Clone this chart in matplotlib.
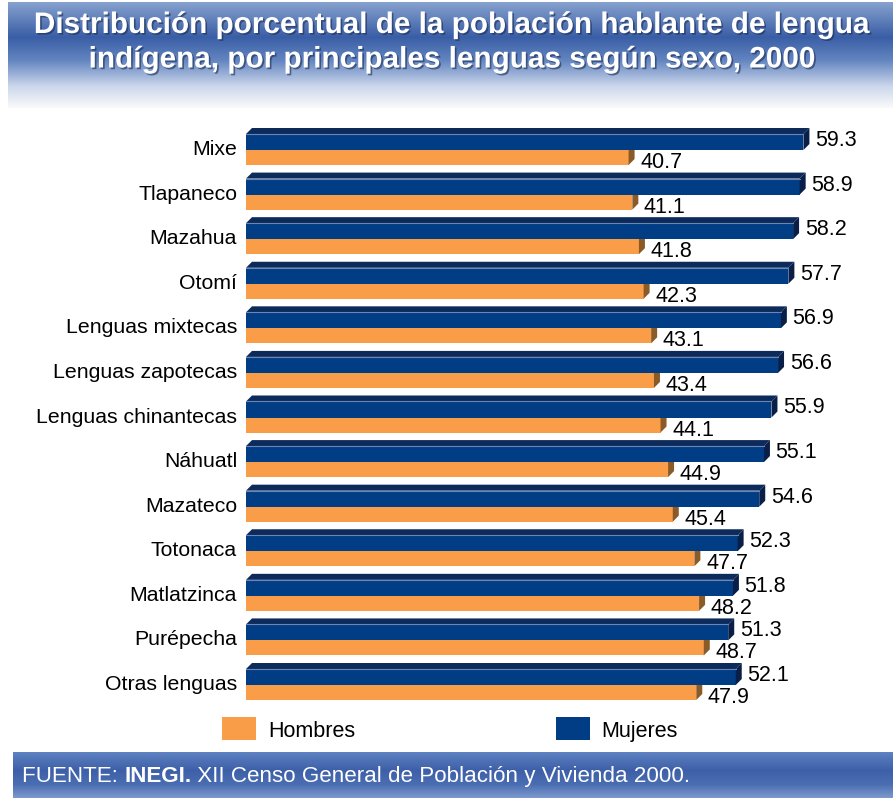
import numpy as np
import matplotlib
matplotlib.use("Agg")
import matplotlib.pyplot as plt
from matplotlib.patches import Polygon, Rectangle
from matplotlib.colors import LinearSegmentedColormap
import matplotlib.patheffects as pe

plt.rcParams['font.family'] = ['Liberation Sans', 'DejaVu Sans']

# ---- data ----
categories = ["Mixe", "Tlapaneco", "Mazahua", "Otomí", "Lenguas mixtecas",
              "Lenguas zapotecas", "Lenguas chinantecas", "Náhuatl", "Mazateco",
              "Totonaca", "Matlatzinca", "Purépecha", "Otras lenguas"]
mujeres = [59.3, 58.9, 58.2, 57.7, 56.9, 56.6, 55.9, 55.1, 54.6, 52.3, 51.8, 51.3, 52.1]
hombres = [40.7, 41.1, 41.8, 42.3, 43.1, 43.4, 44.1, 44.9, 45.4, 47.7, 48.2, 48.7, 47.9]
series_labels = ["Hombres", "Mujeres"]
title = ("Distribución porcentual de la población hablante de lengua\n"
         "indígena, por principales lenguas según sexo, 2000")

# ---- style ----
W, H = 893, 798
C_MUJ = "#013d85"
C_MUJ_TOP = "#0d2b5a"
C_MUJ_SIDE = "#0a1f47"
C_HOM = "#fa9d48"
C_HOM_SIDE = "#8a5a27"

fig = plt.figure(figsize=(W / 100, H / 100), dpi=100)
fig.patch.set_facecolor("white")

def fx(px):
    return px / W

def fy(py):
    return 1 - py / H

# ---- header gradient ----
hdr = fig.add_axes([fx(8), fy(108), fx(W - 8), 106 / H])
hdr.set_axis_off()
hcmap = LinearSegmentedColormap.from_list("hdr", [
    (0.0, "#87a2cf"), (0.33, "#3a5ea6"), (0.55, "#6385c0"),
    (0.8, "#cdd8ec"), (1.0, "#fafafa")])
hdr.imshow(np.linspace(0, 1, 256).reshape(-1, 1), aspect="auto", cmap=hcmap,
           extent=[0, 1, 1, 0])
hdr.set_xlim(0, 1); hdr.set_ylim(1, 0)
shadow = [pe.withSimplePatchShadow(offset=(1.2, -1.2), shadow_rgbFace="#1b2d55", alpha=0.6)]
lines = title.split("\n")
fig.text(fx(453), fy(33), lines[0], ha="center", va="baseline",
         color="white", fontsize=21.4, fontweight="bold", path_effects=shadow)
fig.text(fx(453), fy(67.5), lines[1], ha="center", va="baseline",
         color="white", fontsize=21.4, fontweight="bold", path_effects=shadow)

# ---- footer gradient ----
ftr = fig.add_axes([fx(13), 0, fx(W - 13), 46 / H])
ftr.set_axis_off()
fcmap = LinearSegmentedColormap.from_list("ftr", [
    (0.0, "#5f82c2"), (0.4, "#3c5fa8"), (0.7, "#4a6db2"), (1.0, "#7d99cd")])
ftr.imshow(np.linspace(0, 1, 256).reshape(-1, 1), aspect="auto", cmap=fcmap,
           extent=[0, 1, 1, 0])
ftr.set_xlim(0, 1); ftr.set_ylim(1, 0)
t1 = fig.text(fx(22), fy(782), "FUENTE: ", ha="left", va="baseline", color="white", fontsize=16.1)
t2 = ftr.annotate("INEGI.", xy=(1, 0), xycoords=t1, ha="left", va="bottom",
                  color="white", fontsize=16.1, fontweight="bold")
t3 = ftr.annotate(" XII Censo General de Población y Vivienda 2000.", xy=(1, 0),
                  xycoords=t2, ha="left", va="bottom", color="white", fontsize=16.1)

# ---- main bars axes ----
row_px = 44.58
x_px = 9.4
top_b, bot_b = 150, 685
ax_top = top_b - 0.6 * row_px
ax_bot = bot_b + 0.6 * row_px
ax_left = 246
xmax = 68
ax = fig.add_axes([fx(ax_left), fy(ax_bot), xmax * x_px / W, (ax_bot - ax_top) / H])
ax.set_xlim(0, xmax)
ax.set_ylim(len(categories) - 1 + 0.6, -0.6)
ax.set_axis_off()

hm = 16 / row_px   # mujeres height
hh = 15 / row_px   # hombres height
dx = 6 / x_px
dy = 6 / row_px
y = np.arange(len(categories))

ax.barh(y, hombres, height=hh, align="edge", color=C_HOM, zorder=2)
for yi, v in zip(y, hombres):
    ax.add_patch(Polygon([(v, yi), (v + dx, yi - dy), (v + dx, yi + hh - dy), (v, yi + hh)],
                         closed=True, facecolor=C_HOM_SIDE, edgecolor="none", zorder=2))
ax.barh(y - hm, mujeres, height=hm, align="edge", color=C_MUJ, zorder=3)
for yi, v in zip(y, mujeres):
    t = yi - hm
    ax.add_patch(Polygon([(0, t), (dx, t - dy), (v + dx, t - dy), (v, t)],
                         closed=True, facecolor=C_MUJ_TOP, edgecolor="none", zorder=3))
    ax.plot([0, v], [t, t], color="#6a86b8", lw=0.8, zorder=4)
    ax.add_patch(Polygon([(v, t), (v + dx, t - dy), (v + dx, yi - dy), (v, yi)],
                         closed=True, facecolor=C_MUJ_SIDE, edgecolor="none", zorder=3))

for yi, v in zip(y, mujeres):
    ax.text(v + dx + 0.6, yi - 4 / row_px, f"{v:.1f}", ha="left", va="baseline",
            fontsize=15.5, color="black", zorder=5)
for yi, v in zip(y, hombres):
    ax.text(v + dx + 0.6, yi + 18 / row_px, f"{v:.1f}", ha="left", va="baseline",
            fontsize=15.5, color="black", zorder=5)
for yi, c in zip(y, categories):
    ax.text(-9 / x_px, yi + 5 / row_px, c, ha="right", va="baseline",
            fontsize=15.3, color="black", clip_on=False)

# ---- legend ----
fig.patches.append(Rectangle((fx(222), fy(740)), fx(34), 23 / H, transform=fig.transFigure,
                             facecolor=C_HOM, edgecolor="none"))
fig.patches.append(Rectangle((fx(556), fy(740)), fx(34), 23 / H, transform=fig.transFigure,
                             facecolor=C_MUJ, edgecolor="none"))
fig.text(fx(268), fy(737), series_labels[0], ha="left", va="baseline", fontsize=15.5)
fig.text(fx(601), fy(737), series_labels[1], ha="left", va="baseline", fontsize=15.5)

fig.savefig("out.png", dpi=100, facecolor="white")
